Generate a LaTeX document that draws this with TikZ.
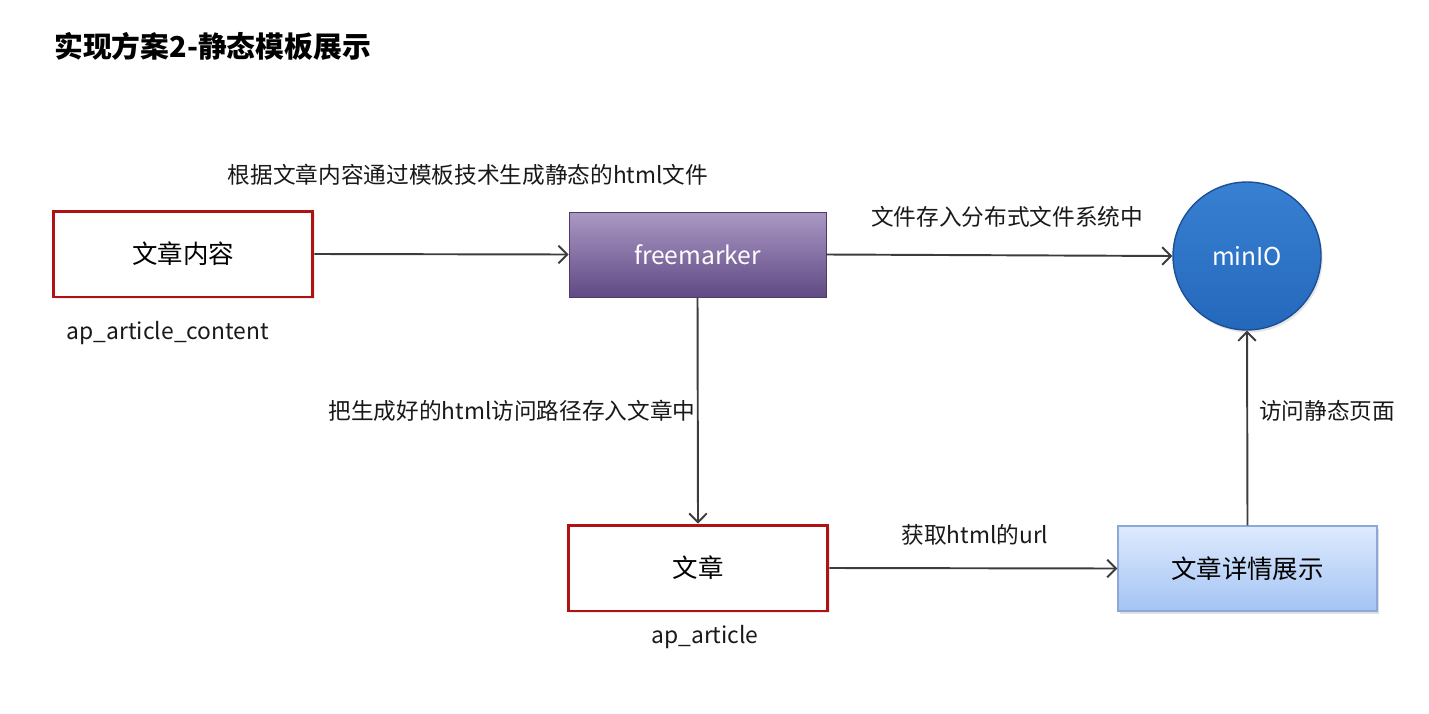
\documentclass[tikz,border=0pt]{standalone}
\usepackage{fontspec}
\setmainfont{Noto Sans CJK SC}
\usetikzlibrary{arrows.meta,shadows}
\definecolor{boxred}{RGB}{176,18,18}
\definecolor{arrowgray}{RGB}{60,60,60}
\definecolor{purtop}{RGB}{170,152,196}
\definecolor{purbot}{RGB}{96,74,132}
\definecolor{mintop}{RGB}{56,128,210}
\definecolor{minbot}{RGB}{36,104,188}
\definecolor{minborder}{RGB}{28,80,150}
\definecolor{bltop}{RGB}{222,234,253}
\definecolor{blbot}{RGB}{164,196,244}
\definecolor{blborder}{RGB}{140,168,216}
\tikzset{
  redbox/.style={draw=boxred, line width=1.7pt, fill=white, minimum width=5.2cm, minimum height=1.72cm, font=\fontsize{14.5}{16}\selectfont, drop shadow={opacity=0.15, shadow xshift=1pt, shadow yshift=-1pt}},
  fmbox/.style={draw=purbot!80!black, line width=0.4pt, top color=purtop, bottom color=purbot, minimum width=5.14cm, minimum height=1.7cm, text=white, font=\fontsize{14}{16}\selectfont},
  minnode/.style={circle, draw=minborder, line width=0.8pt, top color=mintop, bottom color=minbot, minimum size=2.96cm, text=white, font=\fontsize{14}{16}\selectfont, drop shadow={opacity=0.2, shadow xshift=1pt, shadow yshift=-1.5pt}},
  bluebox/.style={draw=blborder, line width=0.8pt, top color=bltop, bottom color=blbot, minimum width=5.18cm, minimum height=1.7cm, font=\fontsize{14.5}{16}\selectfont, drop shadow={opacity=0.25, shadow xshift=1pt, shadow yshift=-1.5pt}},
  conn/.style={draw=arrowgray, line width=1.1pt, -{Straight Barb[length=5pt,width=10pt,line width=1.1pt]}},
  lbl/.style={font=\fontsize{12.9}{15}\selectfont, text=black!90},
  sub/.style={font=\fontsize{13}{15}\selectfont, text=black!90}
}
\begin{document}
\begin{tikzpicture}[x=0.02cm, y=-0.02cm]
\useasboundingbox (0,0) rectangle (1429,713);
\node[anchor=west, font=\fontsize{16.4}{18}\selectfont\bfseries] (title) at (48,46) {实现方案2-静态模板展示};

\node[redbox] (content) at (183,254) {文章内容};
\node[sub] (contentlbl) at (168,333) {ap\_article\_content};

\node[fmbox] (fm) at (697.5,254.5) {freemarker};

\node[minnode] (minio) at (1247,256) {minIO};

\node[redbox] (article) at (698,568) {文章};
\node[sub] (articlelbl) at (705,637) {ap\_article};

\node[bluebox] (detail) at (1247.5,568.5) {文章详情展示};

\draw[conn] (content.east) -- (fm.west);
\node[lbl] (l1) at (468,175) {根据文章内容通过模板技术生成静态的html文件};

\draw[conn] (fm.east) -- (minio.west);
\node[lbl] (l2) at (1007,217) {文件存入分布式文件系统中};

\draw[conn] (fm.south) -- (article.north);
\node[lbl] (l3) at (512,411) {把生成好的html访问路径存入文章中};

\draw[conn] (article.east) -- (detail.west);
\node[lbl] (l4) at (975,535) {获取html的url};

\draw[conn] (detail.north) -- (minio.south);
\node[lbl] (l5) at (1327,411) {访问静态页面};
\end{tikzpicture}
\end{document}
